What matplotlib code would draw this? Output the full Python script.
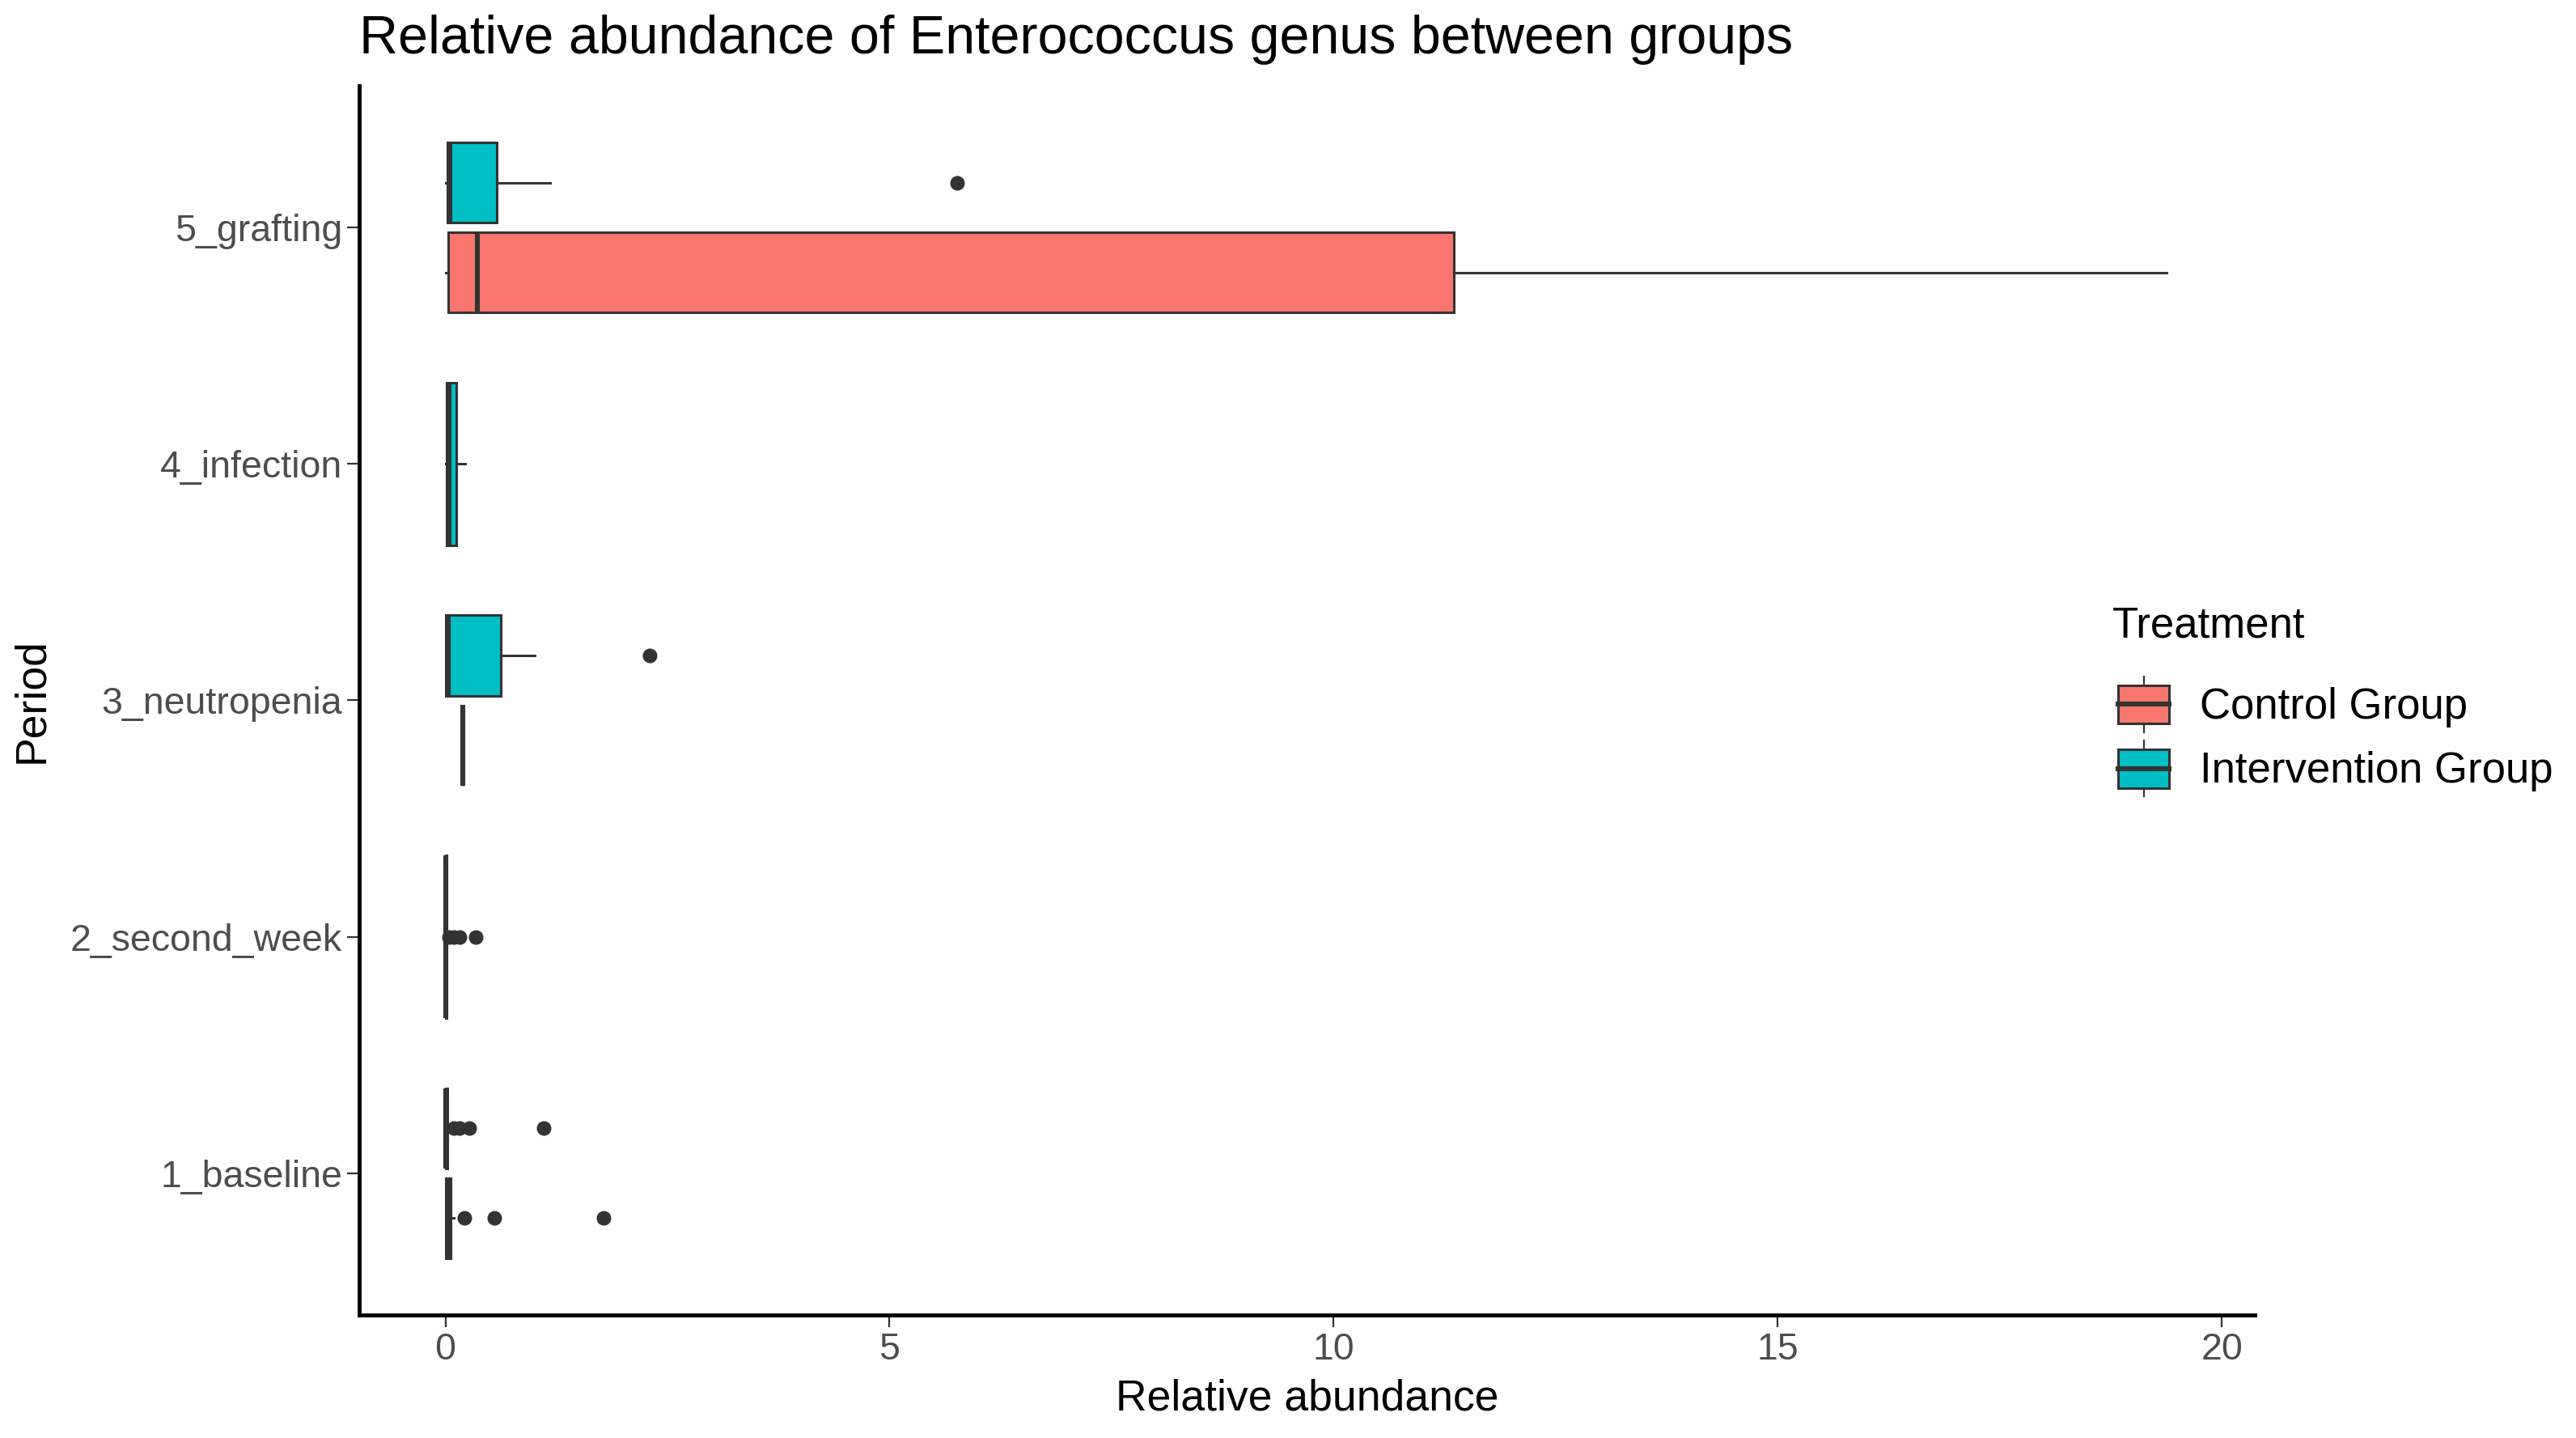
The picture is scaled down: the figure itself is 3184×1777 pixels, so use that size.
import matplotlib
matplotlib.use("Agg")
import matplotlib.pyplot as plt
from matplotlib.patches import Rectangle
from matplotlib.lines import Line2D
from matplotlib.legend_handler import HandlerBase

plt.rcParams['font.family'] = ['Liberation Sans', 'DejaVu Sans']

# periods on the y axis (bottom to top)
periods = ["1_baseline", "2_second_week", "3_neutropenia", "4_infection", "5_grafting"]

# Control group box stats
ctrl_periods = ["1_baseline", "3_neutropenia", "5_grafting"]
ctrl_whislo = [0.0, 0.2, 0.0]
ctrl_q1 = [0.0, 0.2, 0.03]
ctrl_med = [0.03, 0.2, 0.36]
ctrl_q3 = [0.06, 0.2, 11.35]
ctrl_whishi = [0.1, 0.2, 19.38]
ctrl_fliers = [[0.21, 0.55, 1.78], [], []]

# Intervention group box stats
int_periods = ["1_baseline", "2_second_week", "3_neutropenia", "4_infection", "5_grafting"]
int_whislo = [0.0, 0.0, 0.0, 0.0, 0.0]
int_q1 = [0.0, 0.0, 0.0, 0.01, 0.02]
int_med = [0.0, 0.0, 0.03, 0.04, 0.05]
int_q3 = [0.02, 0.01, 0.62, 0.12, 0.58]
int_whishi = [0.03, 0.02, 1.01, 0.22, 1.18]
int_fliers = [[0.1, 0.16, 0.27, 1.11], [0.04, 0.1, 0.16, 0.34], [2.30], [], [5.76]]

groups = ["Control Group", "Intervention Group"]
colors = {"Control Group": "#F8766D", "Intervention Group": "#00BFC4"}
edge = "#333333"


def make_stats(per, lo, q1, med, q3, hi, fl):
    out = {}
    for i, p in enumerate(per):
        out[p] = dict(whislo=lo[i], q1=q1[i], med=med[i], q3=q3[i],
                      whishi=hi[i], fliers=fl[i])
    return out


stats = {
    "Control Group": make_stats(ctrl_periods, ctrl_whislo, ctrl_q1, ctrl_med,
                                ctrl_q3, ctrl_whishi, ctrl_fliers),
    "Intervention Group": make_stats(int_periods, int_whislo, int_q1, int_med,
                                     int_q3, int_whishi, int_fliers),
}

fig = plt.figure(figsize=(31.84, 17.77), dpi=100)
ax = fig.add_axes([444 / 3184, 1 - 1625 / 1777, (2787 - 444) / 3184, (1625 - 106) / 1777])

# dodge like ggplot: two boxes side by side, or one full-width box
offsets = {"Control Group": -0.19, "Intervention Group": 0.19}
for i, p in enumerate(periods):
    present = [g for g in groups if p in stats[g]]
    for g in present:
        if len(present) == 2:
            pos, w = i + 1 + offsets[g], 0.34
        else:
            pos, w = i + 1, 0.69
        ax.bxp([stats[g][p]], positions=[pos], widths=[w], orientation='horizontal',
               patch_artist=True, showcaps=False, manage_ticks=False,
               boxprops=dict(facecolor=colors[g], edgecolor=edge, linewidth=2.2),
               medianprops=dict(color=edge, linewidth=4.4, solid_capstyle='butt'),
               whiskerprops=dict(color=edge, linewidth=2.2),
               flierprops=dict(marker='o', markerfacecolor=edge, markeredgecolor=edge,
                               markersize=12))

ax.set_xlim(-0.97, 20.37)
ax.set_ylim(0.4, 5.6)
ax.set_yticks(range(1, len(periods) + 1))
ax.set_yticklabels(periods)
ax.set_xticks([0, 5, 10, 15, 20])

for s in ["top", "right"]:
    ax.spines[s].set_visible(False)
for s in ["left", "bottom"]:
    ax.spines[s].set_linewidth(3.5)
    ax.spines[s].set_color("black")

ax.tick_params(axis='both', length=11, width=1.6, color=edge, labelsize=33.5,
               labelcolor="#4D4D4D", pad=4)

ax.set_xlabel("Relative abundance", fontsize=38.5, color="black")
ax.set_ylabel("Period", fontsize=38.5, color="black")
ax.xaxis.set_label_coords(0.5, -0.052)
ax.yaxis.set_label_coords(-0.162, 0.5)

ax.set_title("Relative abundance of Enterococcus genus between groups",
             loc='left', fontsize=47.8, color="black", pad=29)


class BoxKeyHandler(HandlerBase):
    def create_artists(self, legend, orig_handle, xdescent, ydescent,
                       width, height, fontsize, trans):
        fc = orig_handle.get_facecolor()
        x0, y0 = -xdescent, -ydescent
        bh = height * 0.69
        by = y0 + (height - bh) / 2
        cx = x0 + width / 2
        rect = Rectangle((x0, by), width, bh, facecolor=fc, edgecolor=edge,
                         linewidth=2.2, transform=trans)
        wl = Line2D([cx, cx], [y0, by], color=edge, linewidth=1.6, transform=trans)
        wh = Line2D([cx, cx], [by + bh, y0 + height], color=edge, linewidth=1.6,
                    transform=trans)
        med = Line2D([x0, x0 + width], [y0 + height / 2] * 2, color=edge,
                     linewidth=4.4, transform=trans)
        return [wl, wh, rect, med]


# legend title drawn as its own text, keys below it
fig.text(2611 / 3184, 1 - 774 / 1777, "Treatment", ha='left', va='center',
         fontsize=38, color="black")
handles = [Rectangle((0, 0), 1, 1, facecolor=colors[g]) for g in groups]
fig.legend(handles, groups, loc='upper left',
           bbox_to_anchor=(2618 / 3184, 1 - 836 / 1777), frameon=False,
           borderpad=0, borderaxespad=0, handlelength=1.2, handleheight=1.63,
           handletextpad=0.72, labelspacing=0.2,
           fontsize=38, handler_map={Rectangle: BoxKeyHandler()})

fig.savefig("out.png", dpi=100, facecolor="white")
